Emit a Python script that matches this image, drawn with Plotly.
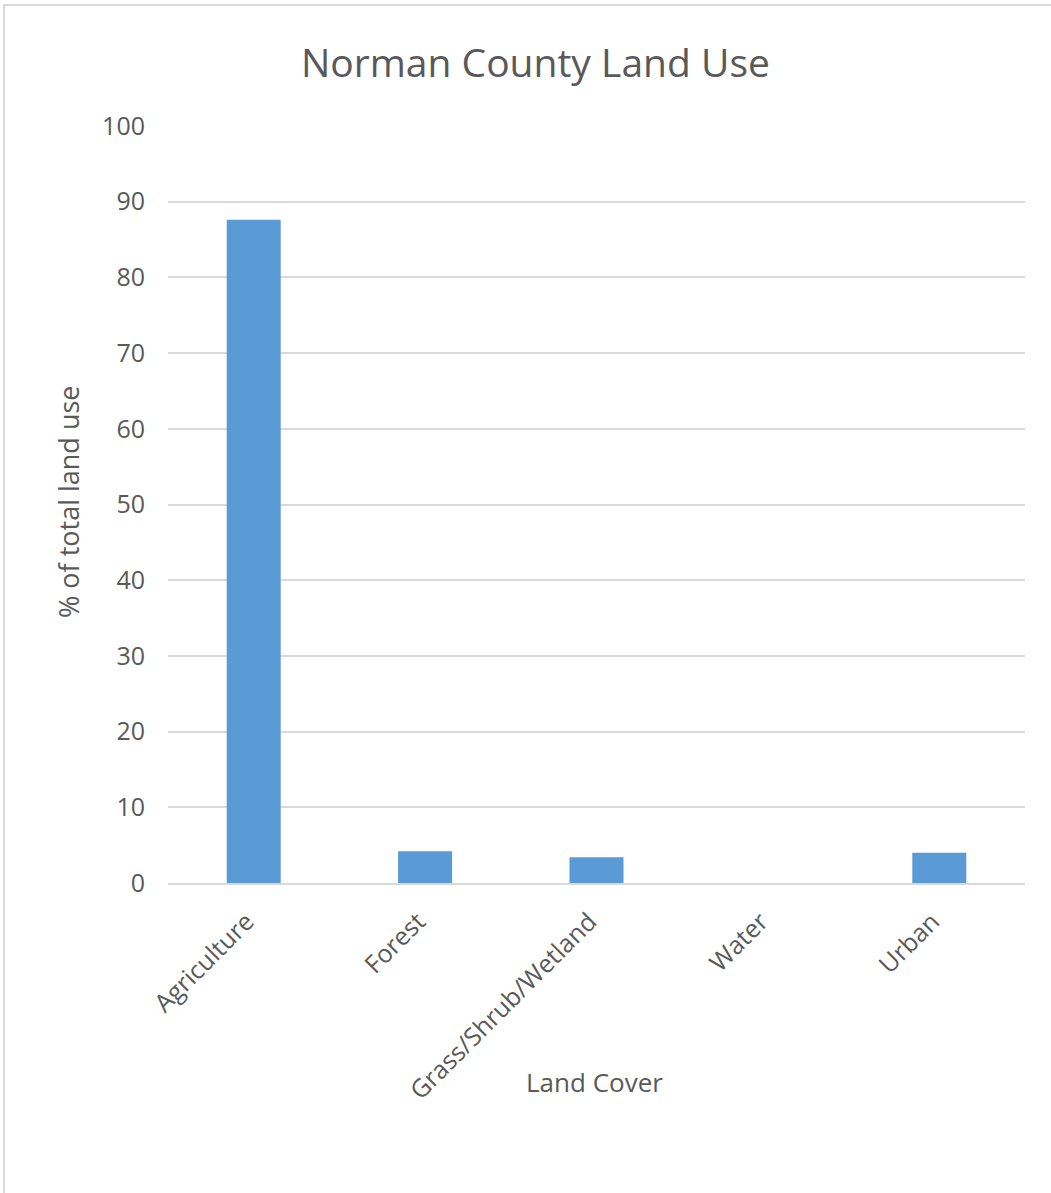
import plotly.graph_objects as go

categories = ["Agriculture", "Forest", "Grass/Shrub/Wetland", "Water", "Urban"]
values = [87.6, 4.2, 3.4, 0.0, 4.0]
y_ticks = [0, 10, 20, 30, 40, 50, 60, 70, 80, 90, 100]

W, H = 1051, 1193
L, R, T, B = 168, 26, 126, 310

fig = go.Figure(go.Bar(x=categories, y=values, marker_color="#5b9bd5",
                       marker_line_width=0))

txt = "#595959"
font = "Open Sans, Liberation Sans, sans-serif"

fig.update_layout(
    width=W, height=H,
    margin=dict(l=L, r=R, t=T, b=B, pad=0),
    paper_bgcolor="white", plot_bgcolor="white",
    bargap=0.685,
    showlegend=False,
    font=dict(family=font, color=txt),
    xaxis=dict(tickangle=-45, tickfont=dict(size=25, color=txt),
               showgrid=False, showline=True, linecolor="#d9d9d9", linewidth=2,
               ticks="", ticklen=0, ticklabelstandoff=12, ticklabelshift=-7),
    yaxis=dict(range=[0, 100], tickvals=y_ticks, tickfont=dict(size=25, color=txt),
               showgrid=True, gridcolor="#d9d9d9", gridwidth=2,
               zeroline=False, showline=False, ticks="", ticklabelstandoff=22),
)

pw, ph = W - L - R, H - T - B


def px(x):
    return (x - L) / pw


def py(y):
    return (H - y - B) / ph


fig.update_layout(
    annotations=[
        dict(text="Norman County Land Use", x=px(535), y=py(61), xref="paper", yref="paper",
             xanchor="center", yanchor="middle",
             showarrow=False, font=dict(size=39, color=txt)),
        dict(text="% of total land use", x=px(68), y=py(502), xref="paper", yref="paper",
             xanchor="center", yanchor="middle",
             showarrow=False, textangle=-90, font=dict(size=27, color=txt)),
        dict(text="Land Cover", x=px(594), y=py(1082), xref="paper", yref="paper",
             xanchor="center", yanchor="middle",
             showarrow=False, font=dict(size=26, color=txt)),
    ],
    shapes=[
        dict(type="line", xref="paper", yref="paper", x0=px(3), x1=px(W + 5),
             y0=py(5), y1=py(5), line=dict(color="#d9d9d9", width=2)),
        dict(type="line", xref="paper", yref="paper", x0=px(4), x1=px(4),
             y0=py(4), y1=py(H + 5), line=dict(color="#d9d9d9", width=2)),
    ],
)

fig.write_html("out.html", config={"displayModeBar": False},
               post_script="document.body.style.margin='0';document.body.style.overflow='hidden';")
